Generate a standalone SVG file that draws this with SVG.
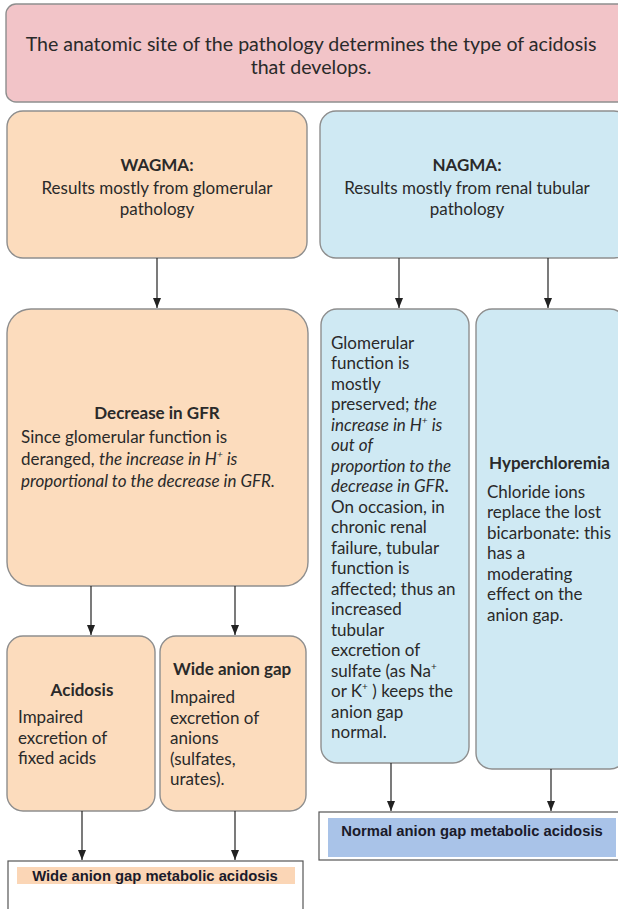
<svg xmlns="http://www.w3.org/2000/svg" width="618" height="909" viewBox="0 0 618 909">
  <style>
    .box { stroke: #8e8e8e; stroke-width: 1.4; }
    .pink { fill: #f2c4c8; }
    .peach { fill: #fcdcbd; }
    .blue { fill: #cfe9f3; }
    .t { font-family: Lato, "Open Sans", "Liberation Sans", sans-serif; font-size: 17px; fill: #2a2a2a; }
    .big { font-size: 19.6px; }
    .b { font-weight: bold; }
    .i { font-style: italic; }
    .c { text-anchor: middle; }
    .sup { font-size: 10px; }
    .res { font-family: "Liberation Sans", Arial, sans-serif; font-weight: bold; font-size: 14.8px; fill: #1a1a2a; text-anchor: middle; }
    .frame { fill: #ffffff; stroke: #555555; stroke-width: 1.2; }
  </style>
  <defs>
    <marker id="down" markerWidth="8" markerHeight="10" refX="4" refY="10" orient="0" markerUnits="userSpaceOnUse" viewBox="0 0 8 10">
      <path d="M0,0 L8,0 L4,10 Z" fill="#222222"/>
    </marker>
  </defs>

  <rect width="618" height="909" fill="#ffffff"/>

  <!-- heading -->
  <g id="site">
    <rect class="box pink" x="6" y="4" width="624" height="98" rx="10"/>
    <text class="t big c" x="311" y="51">The anatomic site of the pathology determines the type of acidosis</text>
    <text class="t big c" x="311" y="74">that develops.</text>
  </g>

  <!-- wide anion gap branch -->
  <g id="wagma">
    <rect class="box peach" x="7" y="111" width="300" height="147" rx="16"/>
    <text class="t b c" x="157" y="171">WAGMA:</text>
    <text class="t c" x="157" y="194">Results mostly from glomerular</text>
    <text class="t c" x="157" y="215">pathology</text>
  </g>

  <g id="gfr">
    <rect class="box peach" x="7" y="309" width="301" height="277" rx="24"/>
    <text class="t b c" x="157" y="419">Decrease in GFR</text>
    <text class="t" x="21" y="443">Since glomerular function is</text>
    <text class="t" x="21" y="465">deranged, <tspan class="i">the increase in H</tspan><tspan class="i sup" dy="-7">+</tspan><tspan class="i" dy="7"> is</tspan></text>
    <text class="t i" x="21" y="487">proportional to the decrease in GFR.</text>
  </g>

  <g id="acidosis">
    <rect class="box peach" x="7" y="636" width="148" height="175" rx="16"/>
    <text class="t b c" x="82" y="696">Acidosis</text>
    <text class="t" x="18" y="723">Impaired</text>
    <text class="t" x="18" y="744">excretion of</text>
    <text class="t" x="18" y="764">fixed acids</text>
  </g>

  <g id="wide-gap">
    <rect class="box peach" x="160" y="636" width="146" height="175" rx="16"/>
    <text class="t b" x="173" y="675">Wide anion gap</text>
    <text class="t" x="170" y="703">Impaired</text>
    <text class="t" x="170" y="724">excretion of</text>
    <text class="t" x="170" y="744">anions</text>
    <text class="t" x="170" y="765">(sulfates,</text>
    <text class="t" x="170" y="785">urates).</text>
  </g>

  <g id="wagma-result">
    <rect class="frame" x="8" y="861" width="295" height="60"/>
    <rect x="17" y="867" width="278" height="17" fill="#fbd6b6"/>
    <text class="res" x="155" y="881">Wide anion gap metabolic acidosis</text>
  </g>

  <!-- normal anion gap branch -->
  <g id="nagma">
    <rect class="box blue" x="320" y="111" width="310" height="147" rx="16"/>
    <text class="t b c" x="467" y="171">NAGMA:</text>
    <text class="t c" x="467" y="194">Results mostly from renal tubular</text>
    <text class="t c" x="467" y="215">pathology</text>
  </g>

  <g id="tubular">
    <rect class="box blue" x="321" y="309" width="148" height="454" rx="16"/>
    <text class="t" x="331" y="349">Glomerular</text>
    <text class="t" x="331" y="369">function is</text>
    <text class="t" x="331" y="390">mostly</text>
    <text class="t" x="331" y="410">preserved; <tspan class="i">the</tspan></text>
    <text class="t i" x="331" y="431">increase in H<tspan class="sup" dy="-7">+</tspan><tspan dy="7"> is</tspan></text>
    <text class="t i" x="331" y="451">out of</text>
    <text class="t i" x="331" y="472">proportion to the</text>
    <text class="t" x="331" y="492"><tspan class="i">decrease in GFR</tspan><tspan class="b">.</tspan></text>
    <text class="t" x="331" y="513">On occasion, in</text>
    <text class="t" x="331" y="533">chronic renal</text>
    <text class="t" x="331" y="554">failure, tubular</text>
    <text class="t" x="331" y="574">function is</text>
    <text class="t" x="331" y="595">affected; thus an</text>
    <text class="t" x="331" y="615">increased</text>
    <text class="t" x="331" y="636">tubular</text>
    <text class="t" x="331" y="656">excretion of</text>
    <text class="t" x="331" y="677">sulfate (as Na<tspan class="sup" dy="-7">+</tspan></text>
    <text class="t" x="331" y="697">or K<tspan class="sup" dy="-7">+</tspan><tspan dy="7"> ) keeps the</tspan></text>
    <text class="t" x="331" y="718">anion gap</text>
    <text class="t" x="331" y="738">normal.</text>
  </g>

  <g id="hyperchloremia">
    <rect class="box blue" x="476" y="309" width="150" height="460" rx="16"/>
    <text class="t b" x="489" y="469">Hyperchloremia</text>
    <text class="t" x="487" y="498">Chloride ions</text>
    <text class="t" x="487" y="518">replace the lost</text>
    <text class="t" x="487" y="539">bicarbonate: this</text>
    <text class="t" x="487" y="559">has a</text>
    <text class="t" x="487" y="580">moderating</text>
    <text class="t" x="487" y="600">effect on the</text>
    <text class="t" x="487" y="621">anion gap.</text>
  </g>

  <g id="nagma-result">
    <rect class="frame" x="319" y="812" width="310" height="48"/>
    <rect x="328" y="818" width="288" height="39" fill="#a9c3e8"/>
    <text class="res" x="472" y="836">Normal anion gap metabolic acidosis</text>
  </g>

  <!-- connectors -->
  <g id="connectors" stroke="#222222" stroke-width="1.2" fill="none">
    <line x1="157" y1="258" x2="157" y2="308" marker-end="url(#down)"/>
    <line x1="399" y1="258" x2="399" y2="308" marker-end="url(#down)"/>
    <line x1="548" y1="258" x2="548" y2="308" marker-end="url(#down)"/>
    <line x1="91" y1="586" x2="91" y2="635" marker-end="url(#down)"/>
    <line x1="235" y1="586" x2="235" y2="635" marker-end="url(#down)"/>
    <line x1="82" y1="811" x2="82" y2="860" marker-end="url(#down)"/>
    <line x1="235" y1="811" x2="235" y2="860" marker-end="url(#down)"/>
    <line x1="391" y1="763" x2="391" y2="811" marker-end="url(#down)"/>
    <line x1="551" y1="769" x2="551" y2="811" marker-end="url(#down)"/>
  </g>
</svg>
